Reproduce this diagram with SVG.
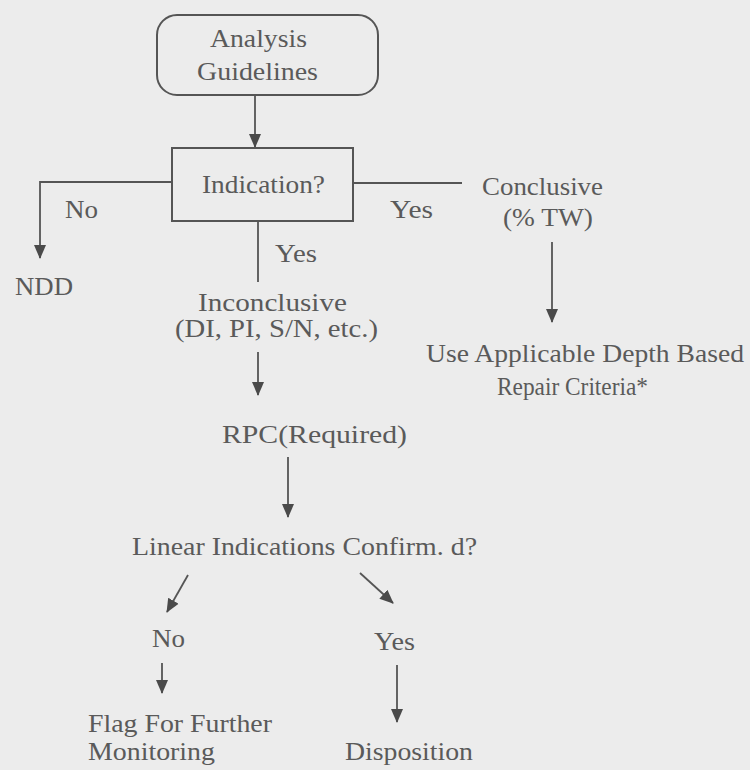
<svg xmlns="http://www.w3.org/2000/svg" width="750" height="770" viewBox="0 0 750 770">
  <defs>
    <style>
      text { font-family: "Liberation Serif", "Times New Roman", serif; font-size: 25px; fill: #5a5a5a; }
      .box { fill: none; stroke: #555; stroke-width: 2; }
      .line { fill: none; stroke: #555; stroke-width: 1.8; }
    </style>
    <marker id="arrow" viewBox="0 0 14 14" refX="13" refY="7" markerWidth="14" markerHeight="14" markerUnits="userSpaceOnUse" orient="auto">
      <path d="M0,1 L14,7 L0,13 Z" fill="#4a4a4a"/>
    </marker>
  </defs>

  <rect width="750" height="770" fill="#ececec"/>

  <!-- connectors -->
  <g id="connectors">
    <line class="line" x1="255" y1="95" x2="255" y2="147" marker-end="url(#arrow)"/>
    <polyline class="line" points="172,182 40,182 40,258" marker-end="url(#arrow)"/>
    <line class="line" x1="353" y1="183" x2="462" y2="183"/>
    <line class="line" x1="258" y1="221" x2="258" y2="282"/>
    <line class="line" x1="552" y1="242" x2="552" y2="322" marker-end="url(#arrow)"/>
    <line class="line" x1="258" y1="352" x2="258" y2="395" marker-end="url(#arrow)"/>
    <line class="line" x1="288" y1="457" x2="288" y2="517" marker-end="url(#arrow)"/>
    <line class="line" x1="188" y1="575" x2="167" y2="612" marker-end="url(#arrow)"/>
    <line class="line" x1="360" y1="573" x2="393" y2="603" marker-end="url(#arrow)"/>
    <line class="line" x1="162" y1="663" x2="162" y2="693" marker-end="url(#arrow)"/>
    <line class="line" x1="397" y1="665" x2="397" y2="722" marker-end="url(#arrow)"/>
  </g>

  <!-- edge labels -->
  <g id="labels">
    <text x="65" y="218" textLength="33" lengthAdjust="spacingAndGlyphs">No</text>
    <text x="390" y="218" textLength="43" lengthAdjust="spacingAndGlyphs">Yes</text>
    <text x="275" y="262" textLength="42" lengthAdjust="spacingAndGlyphs">Yes</text>
    <text x="152" y="647" textLength="33" lengthAdjust="spacingAndGlyphs">No</text>
    <text x="374" y="650" textLength="41" lengthAdjust="spacingAndGlyphs">Yes</text>
  </g>

  <g id="analysis-guidelines">
    <rect class="box" x="157" y="15" width="221" height="80" rx="20" ry="20"/>
    <text x="210" y="47" textLength="97" lengthAdjust="spacingAndGlyphs">Analysis</text>
    <text x="197" y="80" textLength="121" lengthAdjust="spacingAndGlyphs">Guidelines</text>
  </g>

  <g id="indication">
    <rect class="box" x="172" y="148" width="181" height="73"/>
    <text x="202" y="193" textLength="123" lengthAdjust="spacingAndGlyphs">Indication?</text>
  </g>

  <g id="ndd">
    <text x="15" y="295" textLength="58" lengthAdjust="spacingAndGlyphs">NDD</text>
  </g>

  <g id="conclusive">
    <text x="482" y="195" textLength="121" lengthAdjust="spacingAndGlyphs">Conclusive</text>
    <text x="503" y="226" textLength="90" lengthAdjust="spacingAndGlyphs">(% TW)</text>
  </g>

  <g id="depth-criteria">
    <text x="426" y="362" textLength="318" lengthAdjust="spacingAndGlyphs">Use Applicable Depth Based</text>
    <text x="497" y="395" textLength="151" lengthAdjust="spacingAndGlyphs">Repair Criteria*</text>
  </g>

  <g id="inconclusive">
    <text x="198" y="311" textLength="149" lengthAdjust="spacingAndGlyphs">Inconclusive</text>
    <text x="175" y="337" textLength="203" lengthAdjust="spacingAndGlyphs">(DI, PI, S/N, etc.)</text>
  </g>

  <g id="rpc">
    <text x="222" y="443" textLength="185" lengthAdjust="spacingAndGlyphs">RPC(Required)</text>
  </g>

  <g id="linear-indications">
    <text x="132" y="555" textLength="345" lengthAdjust="spacingAndGlyphs">Linear Indications Confirm. d?</text>
  </g>

  <g id="flag-monitoring">
    <text x="88" y="732" textLength="184" lengthAdjust="spacingAndGlyphs">Flag For Further</text>
    <text x="88" y="760" textLength="127" lengthAdjust="spacingAndGlyphs">Monitoring</text>
  </g>

  <g id="disposition">
    <text x="345" y="760" textLength="128" lengthAdjust="spacingAndGlyphs">Disposition</text>
  </g>
</svg>
